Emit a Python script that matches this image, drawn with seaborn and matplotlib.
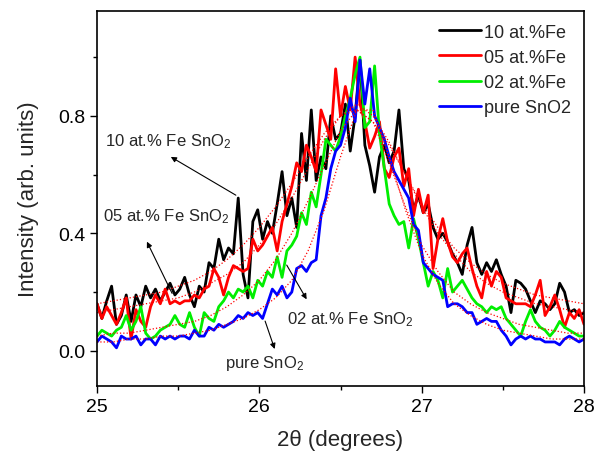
import numpy as np
import matplotlib
matplotlib.use("Agg")
import matplotlib.pyplot as plt
import seaborn as sns

# 2theta sampling (degrees) of the scans and of the fitted curves
two_theta = np.linspace(25.0, 28.0, 101)
two_theta_fit = np.linspace(25.0, 28.0, 31)

# normalised intensities
fe10 = [0.16, 0.11, 0.17, 0.22, 0.09, 0.12, 0.19, 0.10, 0.19, 0.15,
        0.22, 0.18, 0.21, 0.17, 0.20, 0.23, 0.19, 0.21, 0.25, 0.19,
        0.15, 0.22, 0.20, 0.30, 0.28, 0.38, 0.31, 0.35, 0.33, 0.52,
        0.26, 0.18, 0.44, 0.48, 0.38, 0.44, 0.40, 0.50, 0.61, 0.46,
        0.52, 0.42, 0.74, 0.58, 0.82, 0.58, 0.66, 0.62, 0.80, 0.72,
        0.74, 0.84, 0.68, 0.80, 0.99, 0.70, 0.63, 0.54, 0.66, 0.70,
        0.64, 0.68, 0.82, 0.62, 0.58, 0.48, 0.53, 0.47, 0.50, 0.42,
        0.38, 0.40, 0.37, 0.33, 0.30, 0.26, 0.36, 0.42, 0.30, 0.26,
        0.30, 0.27, 0.31, 0.26, 0.22, 0.13, 0.24, 0.23, 0.21, 0.17,
        0.13, 0.17, 0.16, 0.14, 0.16, 0.23, 0.20, 0.13, 0.14, 0.12,
        0.13]
fe05 = [0.16, 0.11, 0.15, 0.12, 0.09, 0.13, 0.18, 0.04, 0.14, 0.10,
        0.08, 0.15, 0.19, 0.16, 0.21, 0.16, 0.17, 0.16, 0.17, 0.17,
        0.19, 0.18, 0.21, 0.22, 0.28, 0.25, 0.19, 0.25, 0.29, 0.28,
        0.27, 0.28, 0.38, 0.34, 0.36, 0.39, 0.42, 0.34, 0.44, 0.50,
        0.56, 0.64, 0.61, 0.70, 0.66, 0.61, 0.82, 0.77, 0.72, 0.96,
        0.80, 0.90, 0.82, 1.00, 0.84, 0.78, 0.69, 0.73, 0.78, 0.62,
        0.59, 0.66, 0.69, 0.56, 0.62, 0.46, 0.55, 0.47, 0.53, 0.28,
        0.38, 0.45, 0.37, 0.32, 0.30, 0.33, 0.35, 0.28, 0.22, 0.18,
        0.27, 0.22, 0.27, 0.25, 0.18, 0.17, 0.16, 0.16, 0.16, 0.15,
        0.19, 0.24, 0.12, 0.15, 0.19, 0.14, 0.08, 0.13, 0.11, 0.14,
        0.09]
fe02 = [0.05, 0.07, 0.06, 0.05, 0.07, 0.08, 0.12, 0.07, 0.10, 0.15,
        0.06, 0.04, 0.05, 0.07, 0.08, 0.09, 0.12, 0.09, 0.08, 0.13,
        0.08, 0.05, 0.13, 0.11, 0.10, 0.15, 0.17, 0.20, 0.18, 0.21,
        0.20, 0.22, 0.18, 0.24, 0.22, 0.27, 0.25, 0.32, 0.25, 0.34,
        0.36, 0.39, 0.47, 0.43, 0.54, 0.49, 0.60, 0.72, 0.70, 0.68,
        0.73, 0.80, 0.86, 0.94, 1.00, 0.76, 0.78, 0.97, 0.74, 0.62,
        0.50, 0.46, 0.43, 0.44, 0.35, 0.45, 0.38, 0.30, 0.22, 0.27,
        0.24, 0.18, 0.28, 0.20, 0.22, 0.24, 0.21, 0.18, 0.16, 0.15,
        0.13, 0.15, 0.14, 0.15, 0.11, 0.09, 0.07, 0.05, 0.10, 0.14,
        0.10, 0.08, 0.07, 0.05, 0.07, 0.10, 0.08, 0.07, 0.06, 0.05,
        0.05]
pure = [0.03, 0.05, 0.04, 0.03, 0.01, 0.05, 0.04, 0.04, 0.05, 0.02,
        0.04, 0.04, 0.02, 0.05, 0.04, 0.05, 0.04, 0.05, 0.05, 0.04,
        0.07, 0.05, 0.05, 0.08, 0.07, 0.09, 0.08, 0.09, 0.10, 0.12,
        0.11, 0.13, 0.12, 0.13, 0.11, 0.16, 0.21, 0.19, 0.22, 0.18,
        0.20, 0.28, 0.29, 0.27, 0.30, 0.31, 0.46, 0.52, 0.62, 0.68,
        0.70, 0.76, 0.86, 0.78, 0.99, 0.84, 0.96, 0.80, 0.76, 0.72,
        0.66, 0.61, 0.58, 0.55, 0.52, 0.43, 0.41, 0.30, 0.28, 0.26,
        0.25, 0.24, 0.15, 0.16, 0.16, 0.15, 0.13, 0.13, 0.09, 0.10,
        0.11, 0.10, 0.10, 0.07, 0.05, 0.02, 0.04, 0.05, 0.04, 0.05,
        0.04, 0.04, 0.03, 0.03, 0.03, 0.02, 0.04, 0.05, 0.04, 0.03,
        0.04]

# fitted profiles (red dotted)
fit10 = [0.16, 0.17, 0.18, 0.19, 0.20, 0.22, 0.24, 0.27, 0.31, 0.36, 0.42,
         0.49, 0.57, 0.66, 0.74, 0.80, 0.82, 0.78, 0.70, 0.60, 0.50,
         0.42, 0.35, 0.30, 0.26, 0.23, 0.21, 0.19, 0.18, 0.17, 0.16]
fit05 = [0.13, 0.14, 0.15, 0.16, 0.17, 0.18, 0.20, 0.23, 0.26, 0.30, 0.36,
         0.43, 0.52, 0.62, 0.72, 0.80, 0.84, 0.80, 0.71, 0.60, 0.49,
         0.40, 0.33, 0.27, 0.23, 0.20, 0.18, 0.16, 0.15, 0.14, 0.13]
fit02 = [0.05, 0.06, 0.06, 0.07, 0.08, 0.09, 0.10, 0.12, 0.15, 0.19, 0.24,
         0.31, 0.40, 0.51, 0.63, 0.75, 0.82, 0.78, 0.64, 0.49, 0.36,
         0.27, 0.20, 0.16, 0.13, 0.11, 0.09, 0.08, 0.07, 0.06, 0.06]
fit_pure = [0.03, 0.03, 0.04, 0.04, 0.05, 0.05, 0.06, 0.07, 0.09, 0.11, 0.14,
            0.18, 0.24, 0.34, 0.48, 0.66, 0.82, 0.82, 0.66, 0.48, 0.33,
            0.23, 0.16, 0.12, 0.09, 0.07, 0.06, 0.05, 0.04, 0.04, 0.04]

series = [
    (fe10, "10 at.%Fe", "#000000"),
    (fe05, "05 at.%Fe", "#ff0000"),
    (fe02, "02 at.%Fe", "#00ee00"),
    (pure, "pure SnO2", "#0000ff"),
]
fits = [fit10, fit05, fit02, fit_pure]

sns.set_style("ticks")
plt.rcParams["font.family"] = ["Liberation Sans", "DejaVu Sans"]
plt.rcParams["mathtext.fontset"] = "custom"
plt.rcParams["mathtext.rm"] = "Liberation Sans"
plt.rcParams["mathtext.it"] = "Liberation Sans:italic"

fig = plt.figure(figsize=(5.94, 4.56), dpi=100)
ax = fig.add_axes([0.1633, 0.1513, 0.8199, 0.8224])

handles = []
for values, name, color in series:
    sns.lineplot(x=two_theta, y=values, color=color, linewidth=2.0, ax=ax)
    handles.append(ax.lines[-1])

for fit in fits:
    sns.lineplot(x=two_theta_fit, y=fit, color="#ff0000", linewidth=0.9,
                 linestyle=":", ax=ax)

ax.set_xlim(25, 28)
ax.set_ylim(-0.12, 1.157)
ax.set_xticks([25, 26, 27, 28])
ax.set_xticks([25.5, 26.5, 27.5], minor=True)
ax.set_yticks([0.0, 0.4, 0.8])
ax.set_yticks([0.2, 0.6, 1.0], minor=True)
ax.set_yticklabels(["0.0", "0.4", "0.8"])
ax.tick_params(axis="both", which="major", direction="out", length=5,
               width=1, labelsize=14, color="black", labelcolor="black")
ax.tick_params(axis="both", which="minor", direction="out", length=3,
               width=1, color="black")
for spine in ax.spines.values():
    spine.set_visible(True)
    spine.set_color("black")
    spine.set_linewidth(1.2)

ax.set_xlabel("2θ (degrees)", fontsize=16, labelpad=10)
ax.set_ylabel("Intensity (arb. units)", fontsize=16, labelpad=14)

ax.legend(handles, [s[1] for s in series], loc="upper right",
          frameon=False, fontsize=13, handlelength=2.3,
          handletextpad=0.2, labelspacing=0.45, borderaxespad=0.3)

# labels with arrows pointing to them
arrow = dict(arrowstyle="-|>", color="black", lw=0.8, mutation_scale=8)
ax.annotate("", xy=(25.44, 0.665), xytext=(25.87, 0.525), arrowprops=arrow)
ax.text(25.05, 0.715, "10 at.% Fe SnO$_2$", fontsize=12, va="center")
ax.annotate("", xy=(25.30, 0.38), xytext=(25.47, 0.187), arrowprops=arrow)
ax.text(25.04, 0.46, "05 at.% Fe SnO$_2$", fontsize=12, va="center")
ax.annotate("", xy=(26.30, 0.167), xytext=(26.16, 0.30), arrowprops=arrow)
ax.text(26.17, 0.11, "02 at.% Fe SnO$_2$", fontsize=12, va="center")
ax.annotate("", xy=(26.10, -0.003), xytext=(26.03, 0.11), arrowprops=arrow)
ax.text(25.79, -0.04, "pure SnO$_2$", fontsize=12, va="center")

fig.savefig("out.png", dpi=100)
